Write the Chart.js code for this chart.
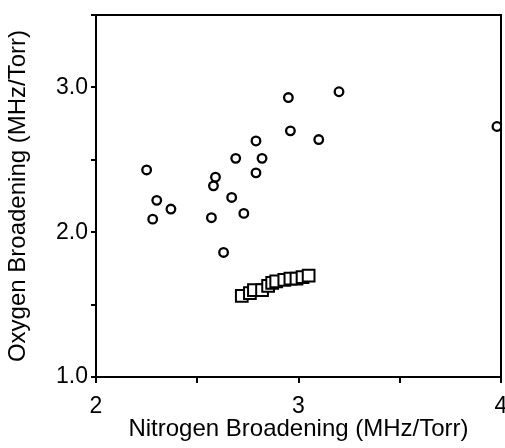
<!DOCTYPE html>
<html>
<head>
<meta charset="utf-8">
<script src="https://cdn.jsdelivr.net/npm/chart.js@4/dist/chart.umd.min.js"></script>
<style>
  html, body { margin: 0; padding: 0; background: #fff; }
  #wrap { width: 505px; height: 448px; }
</style>
</head>
<body>
<div id="wrap"><canvas id="c" width="505" height="448"></canvas></div>
<script>
// Circles series (nitrogen, oxygen broadening)
const circleN2 = [2.25, 2.30, 2.28, 2.37, 2.59, 2.58, 2.57, 2.67, 2.73, 2.63, 2.69, 2.79, 2.82, 2.79, 2.95, 2.96, 3.10, 3.20, 3.98];
const circleO2 = [2.43, 2.22, 2.09, 2.16, 2.38, 2.32, 2.10, 2.24, 2.13, 1.86, 2.51, 2.63, 2.51, 2.41, 2.93, 2.70, 2.64, 2.97, 2.73];
// Squares series
const squareN2 = [2.72, 2.76, 2.78, 2.82, 2.85, 2.87, 2.89, 2.93, 2.96, 2.99, 3.02, 3.05];
const squareO2 = [1.56, 1.58, 1.60, 1.60, 1.63, 1.65, 1.66, 1.67, 1.68, 1.68, 1.69, 1.70];
// Axis ticks
const xTicks = [2, 2.5, 3, 3.5, 4];
const xTickLabels = {2: '2', 3: '3', 4: '4'};
const yTicks = [1, 1.5, 2, 2.5, 3, 3.5];
const yTickLabels = {1: '1.0', 2: '2.0', 3: '3.0'};
const xTitle = 'Nitrogen Broadening (MHz/Torr)';
const yTitle = 'Oxygen Broadening (MHz/Torr)';

const toPts = (xs, ys) => xs.map((x, i) => ({x: x, y: ys[i]}));

const frame = {
  id: 'frame',
  afterDatasetsDraw(chart) {
    const a = chart.chartArea, ctx = chart.ctx;
    ctx.save();
    ctx.strokeStyle = '#000';
    ctx.lineWidth = 2;
    ctx.strokeRect(a.left, a.top, a.right - a.left, a.bottom - a.top);
    ctx.restore();
  }
};

const family = '"Liberation Sans", Arial, Helvetica, sans-serif';
const titleFont = {family: family, size: 24};
const tickFont = {family: family, size: 23};

new Chart(document.getElementById('c'), {
  type: 'scatter',
  data: {
    datasets: [
      {
        label: 'circles',
        data: toPts(circleN2, circleO2),
        pointStyle: 'circle',
        pointRadius: 4.3,
        borderWidth: 2.3,
        borderColor: '#000',
        backgroundColor: '#fff'
      },
      {
        label: 'squares',
        data: toPts(squareN2, squareO2),
        pointStyle: 'rect',
        pointRadius: 8.3,
        borderWidth: 2,
        borderColor: '#000',
        backgroundColor: '#fff'
      }
    ]
  },
  options: {
    responsive: false,
    animation: false,
    devicePixelRatio: 1,
    layout: {autoPadding: false, padding: {top: 15, right: 4, left: 0, bottom: 0}},
    plugins: {legend: {display: false}, tooltip: {enabled: false}},
    scales: {
      x: {
        type: 'linear',
        min: 2, max: 4,
        afterBuildTicks: s => { s.ticks = xTicks.map(v => ({value: v})); },
        afterFit: s => { s.height = 71; s.paddingLeft = 0; s.paddingRight = 0; },
        ticks: {
          color: '#000', font: tickFont, padding: 10, maxRotation: 0, autoSkip: false,
          callback: v => xTickLabels[v] || ''
        },
        grid: {drawOnChartArea: false, drawTicks: true, tickLength: 6, color: '#000', lineWidth: 2},
        border: {display: true, color: '#000', width: 2},
        title: {display: true, text: xTitle, color: '#000', font: titleFont, padding: {top: 0, bottom: 4}}
      },
      y: {
        type: 'linear',
        min: 1, max: 3.5,
        afterBuildTicks: s => { s.ticks = yTicks.map(v => ({value: v})); },
        afterFit: s => { s.width = 96; s.paddingTop = 0; s.paddingBottom = 0; },
        ticks: {
          color: '#000', font: tickFont, padding: 3, autoSkip: false,
          callback: v => yTickLabels[v] || ''
        },
        grid: {drawOnChartArea: false, drawTicks: true, tickLength: 5, color: '#000', lineWidth: 2},
        border: {display: true, color: '#000', width: 2},
        title: {display: true, text: yTitle, color: '#000', font: titleFont, padding: {top: 4, bottom: 0}}
      }
    }
  },
  plugins: [frame]
});
</script>
</body>
</html>
